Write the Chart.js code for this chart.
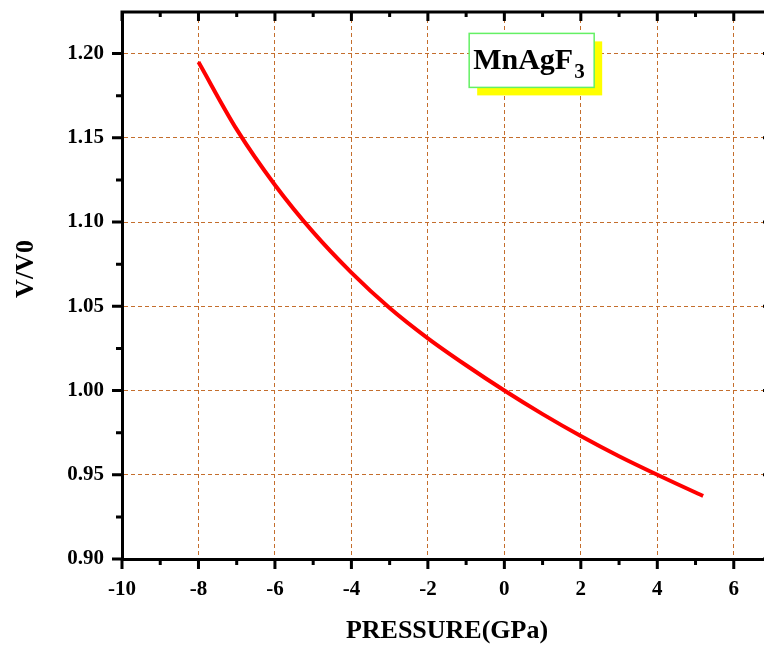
<!DOCTYPE html>
<html>
<head>
<meta charset="utf-8">
<script src="https://cdn.jsdelivr.net/npm/chart.js@4.4.0/dist/chart.umd.min.js"></script>
<style>
  html, body { margin: 0; padding: 0; background: #fff; overflow: hidden; }
  #wrap { width: 776px; height: 647px; }
</style>
</head>
<body>
<div id="wrap"><canvas id="eosChart" width="776" height="647"></canvas></div>
<script>
// === Data ===
const pressure = [-8, -7, -6, -5, -4, -3, -2, -1, 0, 1, 2, 3, 4, 5, 5.2];
const volumeRatio = [1.195, 1.155, 1.122, 1.094, 1.070, 1.049, 1.031, 1.015, 1.000, 0.986, 0.973, 0.961, 0.950, 0.9395, 0.9375];
const xTicks = [-10, -8, -6, -4, -2, 0, 2, 4, 6];
const xMinorTicks = [-9, -7, -5, -3, -1, 1, 3, 5];
const yTicks = [0.90, 0.95, 1.00, 1.05, 1.10, 1.15, 1.20];
const yMinorTicks = [0.925, 0.975, 1.025, 1.075, 1.125, 1.175];
const xTitle = 'PRESSURE(GPa)';
const yTitle = 'V/V0';
const compound = 'MnAgF';
const compoundSub = '3';

const serif = '"Liberation Serif", "Times New Roman", serif';
const gridColor = 'rgb(196,110,45)';

// === Frame, inward/outward ticks, y title and the compound label ===
const frameAndLabels = {
  id: 'frameAndLabels',
  afterDraw(chart) {
    const { ctx, chartArea: a, scales: { x, y } } = chart;
    ctx.save();
    ctx.strokeStyle = '#000';
    ctx.lineWidth = 3;
    ctx.beginPath();
    ctx.moveTo(a.left - 1.5, a.top);
    ctx.lineTo(a.right + 1.5, a.top);
    ctx.moveTo(a.right, a.top);
    ctx.lineTo(a.right, a.bottom);
    xTicks.forEach(v => {
      const px = x.getPixelForValue(v);
      ctx.moveTo(px, a.bottom); ctx.lineTo(px, a.bottom + 10);
      ctx.moveTo(px, a.top); ctx.lineTo(px, a.top + 9);
    });
    xMinorTicks.forEach(v => {
      const px = x.getPixelForValue(v);
      ctx.moveTo(px, a.bottom); ctx.lineTo(px, a.bottom + 6);
      ctx.moveTo(px, a.top); ctx.lineTo(px, a.top + 5);
    });
    yTicks.forEach(v => {
      const py = y.getPixelForValue(v);
      ctx.moveTo(a.left - 10, py); ctx.lineTo(a.left, py);
      ctx.moveTo(a.right, py); ctx.lineTo(a.right - 9, py);
    });
    yMinorTicks.forEach(v => {
      const py = y.getPixelForValue(v);
      ctx.moveTo(a.left - 6, py); ctx.lineTo(a.left, py);
      ctx.moveTo(a.right, py); ctx.lineTo(a.right - 5, py);
    });
    ctx.stroke();

    // y axis title
    ctx.fillStyle = '#000';
    ctx.font = 'bold 26px ' + serif;
    ctx.textAlign = 'center';
    ctx.textBaseline = 'middle';
    ctx.translate(26, 269);
    ctx.rotate(-Math.PI / 2);
    ctx.fillText(yTitle, 0, 0);
    ctx.restore();

    // compound label box with yellow shadow
    ctx.save();
    const bx = x.getPixelForValue(-0.92);
    const by = y.getPixelForValue(1.212);
    const bw = 125, bh = 54;
    ctx.fillStyle = '#ffff00';
    ctx.fillRect(bx + 8, by + 8, bw, bh);
    ctx.fillStyle = '#fff';
    ctx.fillRect(bx, by, bw, bh);
    ctx.strokeStyle = 'rgb(100,240,100)';
    ctx.lineWidth = 1.5;
    ctx.strokeRect(bx, by, bw, bh);
    ctx.fillStyle = '#000';
    ctx.textAlign = 'left';
    ctx.textBaseline = 'alphabetic';
    ctx.font = 'bold 30px ' + serif;
    ctx.fillText(compound, bx + 4, by + 36);
    const w = ctx.measureText(compound).width;
    ctx.font = 'bold 21px ' + serif;
    ctx.fillText(compoundSub, bx + 5 + w, by + 45);
    ctx.restore();
  }
};

const ctx = document.getElementById('eosChart').getContext('2d');
new Chart(ctx, {
  type: 'line',
  data: {
    datasets: [{
      data: pressure.map((p, i) => ({ x: p, y: volumeRatio[i] })),
      borderColor: '#ff0000',
      borderWidth: 4,
      pointRadius: 0,
      fill: false,
      cubicInterpolationMode: 'monotone'
    }]
  },
  options: {
    responsive: false,
    animation: false,
    devicePixelRatio: 1,
    layout: { padding: { top: 12, right: 4, left: 0, bottom: 0 } },
    plugins: { legend: { display: false }, tooltip: { enabled: false } },
    scales: {
      x: {
        type: 'linear',
        min: -10,
        max: 7,
        afterBuildTicks: s => { s.ticks = xTicks.map(v => ({ value: v })); },
        afterFit: s => { s.height = 88; s.paddingLeft = 0; s.paddingRight = 0; },
        grid: { color: gridColor, lineWidth: 1, drawTicks: false },
        border: { display: true, color: '#000', width: 3, dash: [4, 3] },
        ticks: {
          color: '#000',
          padding: 18,
          maxRotation: 0,
          font: { family: serif, size: 21, weight: 'bold' }
        },
        title: {
          display: true,
          text: xTitle,
          color: '#000',
          padding: { top: 0, bottom: 0 },
          font: { family: serif, size: 26, weight: 'bold' }
        }
      },
      y: {
        min: 0.9,
        max: 1.2247,
        afterBuildTicks: s => { s.ticks = yTicks.map(v => ({ value: v })); },
        afterFit: s => { s.width = 122; s.paddingTop = 0; s.paddingBottom = 0; },
        grid: { color: gridColor, lineWidth: 1, drawTicks: false },
        border: { display: true, color: '#000', width: 3, dash: [4, 3] },
        ticks: {
          color: '#000',
          padding: 18,
          callback: v => Number(v).toFixed(2),
          font: { family: serif, size: 21, weight: 'bold' }
        }
      }
    }
  },
  plugins: [frameAndLabels]
});
</script>
</body>
</html>
